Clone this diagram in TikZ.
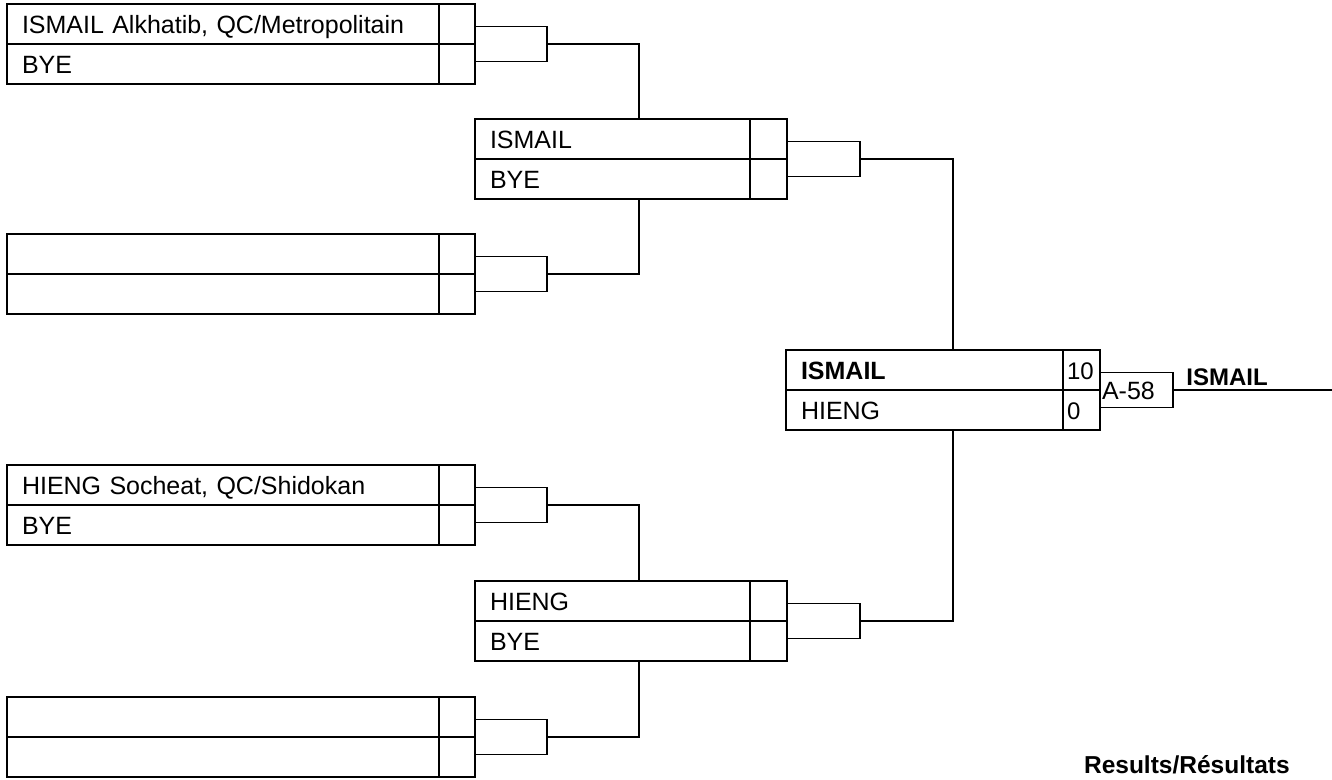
\documentclass[tikz,border=0pt]{standalone}
\usepackage{fontspec}
\setmainfont{Liberation Sans}
\usetikzlibrary{positioning}

\begin{document}
\begin{tikzpicture}[x=1pt,y=-1pt,line width=1.3pt,
    every node/.style={font=\fontsize{25}{29}\selectfont,outer sep=0pt},
    namecell/.style={draw,inner xsep=15pt,inner ysep=0pt,text height=19pt,text depth=0pt,
      minimum height=40pt,align=left},
    scorecell/.style={draw,inner xsep=4pt,inner ysep=0pt,text height=19pt,text depth=0pt,
      minimum height=40pt,align=left,font=\fontsize{24}{28}\selectfont},
    linkbox/.style={draw,inner xsep=2pt,inner ysep=0pt,text height=19pt,text depth=0pt,
      minimum height=35pt,align=left,anchor=west,font=\fontsize{25}{29}\selectfont}]
  \useasboundingbox (0,0) rectangle (1332,779);

  % first round
  \node[namecell,text width=402pt,anchor=north west] (m1a) at (7,4) {ISMAIL Alkhatib, QC/Metropolitain};
  \node[scorecell,text width=28pt,right=0pt of m1a] (m1as) {};
  \node[namecell,text width=402pt,below=0pt of m1a] (m1b) {BYE};
  \node[scorecell,text width=28pt,right=0pt of m1b] (m1bs) {};
  \node[linkbox,text width=68pt] (l1) at (m1as.south east) {};

  \node[namecell,text width=402pt,anchor=north west] (m2a) at (7,234) {};
  \node[scorecell,text width=28pt,right=0pt of m2a] (m2as) {};
  \node[namecell,text width=402pt,below=0pt of m2a] (m2b) {};
  \node[scorecell,text width=28pt,right=0pt of m2b] (m2bs) {};
  \node[linkbox,text width=68pt] (l2) at (m2as.south east) {};

  \node[namecell,text width=402pt,anchor=north west] (m3a) at (7,465) {HIENG Socheat, QC/Shidokan};
  \node[scorecell,text width=28pt,right=0pt of m3a] (m3as) {};
  \node[namecell,text width=402pt,below=0pt of m3a] (m3b) {BYE};
  \node[scorecell,text width=28pt,right=0pt of m3b] (m3bs) {};
  \node[linkbox,text width=68pt] (l3) at (m3as.south east) {};

  \node[namecell,text width=402pt,anchor=north west] (m4a) at (7,697) {};
  \node[scorecell,text width=28pt,right=0pt of m4a] (m4as) {};
  \node[namecell,text width=402pt,below=0pt of m4a] (m4b) {};
  \node[scorecell,text width=28pt,right=0pt of m4b] (m4bs) {};
  \node[linkbox,text width=68pt] (l4) at (m4as.south east) {};

  % second round
  \node[namecell,text width=245pt,anchor=north west] (q1a) at (475,119) {ISMAIL};
  \node[scorecell,text width=29pt,right=0pt of q1a] (q1as) {};
  \node[namecell,text width=245pt,below=0pt of q1a] (q1b) {BYE};
  \node[scorecell,text width=29pt,right=0pt of q1b] (q1bs) {};
  \node[linkbox,text width=69pt] (k1) at (q1as.south east) {};

  \node[namecell,text width=245pt,anchor=north west] (q2a) at (475,581) {HIENG};
  \node[scorecell,text width=29pt,right=0pt of q2a] (q2as) {};
  \node[namecell,text width=245pt,below=0pt of q2a] (q2b) {BYE};
  \node[scorecell,text width=29pt,right=0pt of q2b] (q2bs) {};
  \node[linkbox,text width=69pt] (k2) at (q2as.south east) {};

  % final
  \node[namecell,text width=247pt,anchor=north west,font=\bfseries\fontsize{25}{29}\selectfont] (fa) at (786,350) {ISMAIL};
  \node[scorecell,text width=29pt,right=0pt of fa] (fas) {10};
  \node[namecell,text width=247pt,below=0pt of fa] (fb) {HIENG};
  \node[scorecell,text width=29pt,right=0pt of fb] (fbs) {0};
  \node[linkbox,text width=69pt] (kf) at (fas.south east) {A-58};

  \coordinate (j1) at (639,0);
  \coordinate (j2) at (953,0);
  \coordinate (rim) at (1332,0);

  \draw (l1.east) -| (j1 |- q1a.north);
  \draw (l2.east) -| (j1 |- q1b.south);
  \draw (l3.east) -| (j1 |- q2a.north);
  \draw (l4.east) -| (j1 |- q2b.south);
  \draw (k1.east) -| (j2 |- fa.north);
  \draw (k2.east) -| (j2 |- fb.south);
  \draw (kf.east) -- (kf.east -| rim);

  \node[anchor=base west,font=\bfseries\fontsize{24}{28}\selectfont] (champ) at (1183,385) {ISMAIL};
  \node[anchor=base east,font=\bfseries\fontsize{24.5}{29}\selectfont] (results) at (1293,773) {Results/Résultats};
\end{tikzpicture}
\end{document}
